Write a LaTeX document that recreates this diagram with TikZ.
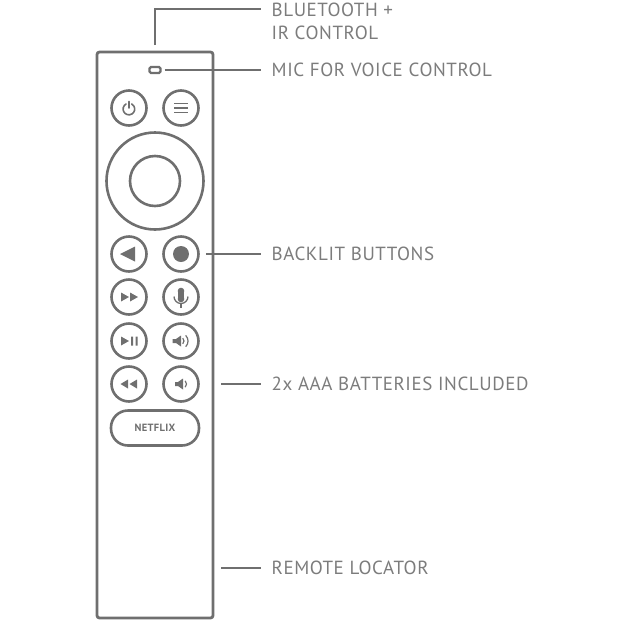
\documentclass[tikz,border=0pt]{standalone}
\usepackage{fontspec}
\setmainfont[LetterSpace=3]{PT Sans}
\definecolor{remotegray}{HTML}{6F6F6F}
\definecolor{labelgray}{HTML}{7C7C7C}
\begin{document}
\begin{tikzpicture}[
    x=1pt, y=-1pt,
    btn/.style={circle, draw=remotegray, line width=2.6pt, minimum size=35pt, inner sep=0pt},
    lbl/.style={anchor=west, align=left, inner sep=0pt, text=labelgray, font=\fontsize{19}{23}\selectfont},
    lead/.style={draw=remotegray, line width=1.2pt},
    icon/.style={fill=remotegray, draw=none}
  ]
    \useasboundingbox (0,0) rectangle (625,625);
    % body
    \node[draw=remotegray, line width=2.8pt, rounded corners=2.5pt, minimum width=116pt, minimum height=566pt, inner sep=0pt] (body) at (155,335) {};
    \node[draw=remotegray, line width=2.2pt, rounded corners=1.5pt, minimum width=11pt, minimum height=6pt, inner sep=0pt] (led) at (155,70) {};
    % buttons
    \node[btn] (power) at (129,108) {};
    \node[btn] (menu) at (181,108) {};
    \node[circle, draw=remotegray, line width=2.6pt, minimum size=97pt, inner sep=0pt] (ring) at (155,181) {};
    \node[circle, draw=remotegray, line width=2.6pt, minimum size=50pt, inner sep=0pt] (ok) at (155,181) {};
    \node[btn] (back) at (129,254) {};
    \node[btn] (home) at (181,254) {};
    \node[btn] (ffwd) at (129,297) {};
    \node[btn] (mic) at (181,297) {};
    \node[btn] (play) at (129,341) {};
    \node[btn] (volup) at (181,341) {};
    \node[btn] (rewind) at (129,384) {};
    \node[btn] (voldown) at (181,384) {};
    \node[draw=remotegray, line width=2.6pt, rounded corners=17pt, minimum width=88pt, minimum height=35pt, inner sep=0pt, text=remotegray, font=\fontsize{10.5}{12}\selectfont\bfseries] (netflix) at (155,428) {NETFLIX};
    % icons
    \draw[remotegray, line width=1.6pt, line cap=round] (126,104) arc[start angle=120, end angle=420, radius=5.8pt];
    \draw[remotegray, line width=1.6pt, line cap=round] (129,101.5) -- (129,108);
    \draw[remotegray, line width=1.4pt] (174,103.5) -- (188,103.5) (174,108) -- (188,108) (174,112.5) -- (188,112.5);
    \fill[icon] (135,246.5) -- (135,261.5) -- (120,254) -- cycle;
    \fill[icon] (181,254) circle[radius=8pt];
    \fill[icon] (121,292.5) -- (121,301.5) -- (129,297) -- cycle (130,292.5) -- (130,301.5) -- (138,297) -- cycle;
    \fill[icon] (177.7,291) rectangle (184.3,299);
    \fill[icon] (181,291) circle[radius=3.3pt] (181,299) circle[radius=3.3pt];
    \draw[remotegray, line width=1.3pt] (174,296.5) arc[start angle=180, end angle=360, radius=7pt];
    \draw[remotegray, line width=1.3pt] (181,303.5) -- (181,307.5);
    \fill[icon] (121,336.5) -- (121,345.5) -- (129,341) -- cycle (131,336.5) rectangle (133,345.5) (135.5,336.5) rectangle (137.5,345.5);
    \fill[icon] (172.5,339) -- (176,339) -- (181,335.5) -- (181,346.5) -- (176,343) -- (172.5,343) -- cycle;
    \draw[remotegray, line width=1.2pt] (182.8,343.8) arc[start angle=-45, end angle=45, radius=4pt];
    \draw[remotegray, line width=1.2pt] (185.7,346.7) arc[start angle=-45, end angle=45, radius=8pt];
    \fill[icon] (137,379.5) -- (137,388.5) -- (129.5,384) -- cycle (128,379.5) -- (128,388.5) -- (120.5,384) -- cycle;
    \fill[icon] (175,382) -- (178,382) -- (183,378.5) -- (183,389.5) -- (178,386) -- (175,386) -- cycle;
    \draw[remotegray, line width=1.2pt] (185.2,387.2) arc[start angle=-45, end angle=45, radius=4.5pt];
    % labels
    \node[lbl] (bt) at (271.5,21) {BLUETOOTH +\\IR CONTROL};
    \node[lbl] (miclbl) at (271.5,70) {MIC FOR VOICE CONTROL};
    \node[lbl] (backlit) at (271.5,254) {BACKLIT BUTTONS};
    \node[lbl] (aaa) at (271.5,384) {2x AAA BATTERIES INCLUDED};
    \node[lbl] (locator) at (271.5,568) {REMOTE LOCATOR};
    % leader lines
    \coordinate (btstart) at (155,45);
    \coordinate (btend) at (261,9);
    \coordinate (aaastart) at (221,384);
    \coordinate (locstart) at (221,568);
    \draw[lead] (btstart) |- (btend);
    \draw[lead] ([xshift=3pt]led.east) -- ([xshift=-10.5pt]miclbl.west);
    \draw[lead] ([xshift=6pt]home.east) -- ([xshift=-10.5pt]backlit.west);
    \draw[lead] (aaastart) -- ([xshift=-10.5pt]aaa.west);
    \draw[lead] (locstart) -- ([xshift=-10.5pt]locator.west);
  \end{tikzpicture}
\end{document}
